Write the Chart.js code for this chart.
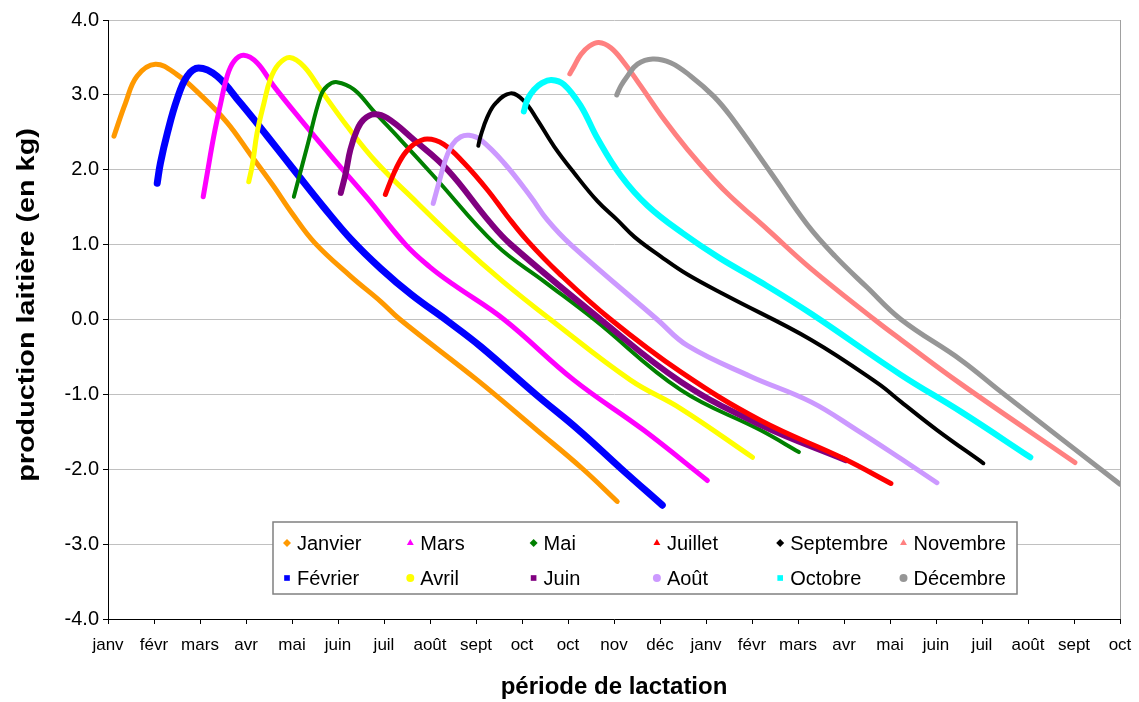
<!DOCTYPE html>
<html lang="fr">
<head>
<meta charset="utf-8">
<title>Production laitière</title>
<script src="https://cdn.jsdelivr.net/npm/chart.js@4.4.1/dist/chart.umd.min.js"></script>
<style>
    html, body { margin: 0; padding: 0; background: #fff; }
    .chart-box { width: 1139px; height: 702px; position: relative; }
</style>
</head>
<body>
<div class="chart-box"><canvas id="lactationChart"></canvas></div>
<script>
// x axis labels (one per month tick)
const monthLabels = ["janv", "févr", "mars", "avr", "mai", "juin", "juil", "août", "sept", "oct", "oct", "nov",
    "déc", "janv", "févr", "mars", "avr", "mai", "juin", "juil", "août", "sept", "oct"];

const yTicks = [-4, -3, -2, -1, 0, 1, 2, 3, 4];

// series: [month position, production]
const janvier = [[0.13, 2.45], [0.38, 2.89], [0.63, 3.25], [1.03, 3.41], [1.5, 3.27], [2.01, 3.0], [2.59, 2.63],
    [3.1, 2.2], [3.6, 1.78], [4.0, 1.42], [4.5, 1.02], [5.27, 0.58], [5.93, 0.24], [6.35, 0.0],
    [8.03, -0.81], [9.33, -1.48], [10.31, -1.99], [11.07, -2.43]];
const fevrier = [[1.07, 1.82], [1.14, 2.09], [1.29, 2.49], [1.5, 2.94], [1.72, 3.25], [1.97, 3.36], [2.37, 3.25],
    [2.88, 2.89], [3.46, 2.45], [4.04, 2.0], [4.69, 1.5], [5.3, 1.06], [5.93, 0.68], [6.6, 0.33], [7.38, -0.02],
    [8.1, -0.36], [9.3, -1.0], [10.24, -1.48], [11.15, -1.99], [12.05, -2.48]];
const mars = [[2.07, 1.64], [2.16, 1.96], [2.3, 2.45], [2.45, 2.89], [2.59, 3.25], [2.74, 3.45], [2.95, 3.53],
    [3.24, 3.43], [3.6, 3.12], [4.19, 2.67], [4.91, 2.14], [5.64, 1.62], [6.47, 1.0], [7.0, 0.7], [7.5, 0.47],
    [8.61, 0.0], [10.13, -0.81], [11.65, -1.48], [13.03, -2.15]];
const avril = [[3.06, 1.84], [3.14, 2.07], [3.24, 2.49], [3.39, 2.89], [3.53, 3.21], [3.71, 3.41], [3.95, 3.5],
    [4.26, 3.38], [4.62, 3.07], [5.2, 2.58], [5.85, 2.09], [6.72, 1.56], [7.67, 1.0], [8.6, 0.5], [9.62, 0.0],
    [11.36, -0.81], [12.45, -1.19], [14.01, -1.84]];
const mai = [[4.04, 1.64], [4.33, 2.31], [4.62, 2.98], [4.77, 3.12], [4.98, 3.17], [5.35, 3.07], [5.78, 2.78],
    [6.36, 2.4], [7.09, 1.91], [8.43, 1.0], [9.5, 0.5], [10.57, 0.0], [12.45, -0.94], [14.19, -1.48],
    [15.02, -1.77]];
const juin = [[5.06, 1.69], [5.17, 1.96], [5.27, 2.27], [5.42, 2.54], [5.56, 2.67], [5.78, 2.74], [6.07, 2.69],
    [6.65, 2.4], [7.38, 2.0], [8.3, 1.3], [8.76, 1.0], [10.71, 0.0], [12.45, -0.83], [14.19, -1.41],
    [16.04, -1.88]];
const juillet = [[6.03, 1.67], [6.22, 1.96], [6.43, 2.2], [6.65, 2.34], [6.94, 2.41], [7.3, 2.34], [7.74, 2.09],
    [8.25, 1.73], [8.68, 1.38], [9.12, 1.05], [9.8, 0.62], [10.93, 0.0], [12.45, -0.7], [14.19, -1.35],
    [16.0, -1.86], [17.02, -2.19]];
const aout = [[7.07, 1.55], [7.19, 1.82], [7.34, 2.14], [7.49, 2.34], [7.67, 2.44], [7.85, 2.46], [8.1, 2.4],
    [8.61, 2.09], [9.19, 1.64], [9.55, 1.33], [10.06, 1.0], [11.94, 0.0], [12.6, -0.35], [13.97, -0.76],
    [15.28, -1.1], [16.29, -1.48], [17.24, -1.86], [18.02, -2.18]];
const septembre = [[8.05, 2.32], [8.1, 2.45], [8.25, 2.71], [8.43, 2.89], [8.75, 3.02], [9.04, 2.92], [9.33, 2.67],
    [9.7, 2.31], [10.13, 1.96], [10.64, 1.58], [11.07, 1.33], [11.45, 1.1], [12.02, 0.84], [12.6, 0.6],
    [13.47, 0.31], [15.28, -0.27], [16.73, -0.85], [17.24, -1.1], [18.03, -1.48], [19.03, -1.92]];
const octobre = [[9.04, 2.78], [9.12, 2.94], [9.26, 3.07], [9.44, 3.16], [9.64, 3.2], [9.91, 3.14], [10.28, 2.85],
    [10.64, 2.42], [11.15, 1.92], [11.73, 1.52], [12.5, 1.15], [13.3, 0.82], [14.19, 0.5], [15.28, 0.08],
    [17.24, -0.74], [18.54, -1.23], [20.05, -1.84]];
const novembre = [[10.04, 3.28], [10.13, 3.38], [10.28, 3.54], [10.46, 3.65], [10.67, 3.7], [10.93, 3.63],
    [11.22, 3.43], [11.58, 3.12], [12.09, 2.67], [12.6, 2.27], [13.17, 1.87], [13.54, 1.64], [14.34, 1.2],
    [15.28, 0.68], [16.66, 0.0], [17.24, -0.27], [18.54, -0.86], [21.02, -1.91]];
const decembre = [[11.06, 3.0], [11.15, 3.12], [11.29, 3.25], [11.51, 3.41], [11.84, 3.48], [12.23, 3.43],
    [12.67, 3.25], [13.17, 2.98], [13.54, 2.71], [14.41, 1.96], [15.2, 1.27], [15.8, 0.85], [16.5, 0.43],
    [17.24, 0.0], [18.54, -0.54], [19.4, -0.96], [22.0, -2.2]];

const seriesNames = ["Janvier", "Février", "Mars", "Avril", "Mai", "Juin", "Juillet", "Août", "Septembre",
    "Octobre", "Novembre", "Décembre"];
const seriesData = [janvier, fevrier, mars, avril, mai, juin, juillet, aout, septembre, octobre, novembre, decembre];

(function () {
    "use strict";

    const colors = ["#FF9900", "#0000FF", "#FF00FF", "#FFFF00", "#008000", "#800080",
        "#FF0000", "#CC99FF", "#000000", "#00FFFF", "#FF8080", "#969696"];
    const markers = ["rectRot", "rect", "triangle", "circle", "rectRot", "rect",
        "triangle", "circle", "rectRot", "rect", "triangle", "circle"];
    const widths = [5, 7, 5, 5, 4, 6, 5, 5, 4, 6, 5, 5];
    const fontFamily = "'Liberation Sans', Arial, sans-serif";

    const datasets = seriesData.map((pts, i) => ({
        label: seriesNames[i],
        data: pts.map((p) => ({ x: p[0], y: p[1] })),
        borderColor: colors[i],
        backgroundColor: colors[i],
        borderWidth: widths[i],
        borderCapStyle: "round",
        borderJoinStyle: "round",
        tension: 0.4,
        pointRadius: 0,
        pointStyle: markers[i],
        fill: false,
        order: 12 - i,
    }));

    // Legend drawn as a 6 x 2 grid, column by column
    const gridLegend = {
        id: "gridLegend",
        afterDraw(chart) {
            const ctx = chart.ctx;
            const left = 273, top = 522, w = 744, h = 72;
            ctx.save();
            ctx.fillStyle = "#fff";
            ctx.fillRect(left, top, w, h);
            ctx.strokeStyle = "#808080";
            ctx.lineWidth = 1.5;
            ctx.strokeRect(left, top, w, h);
            ctx.font = "20px " + fontFamily;
            ctx.textBaseline = "middle";
            ctx.textAlign = "left";
            chart.data.datasets.forEach((ds, i) => {
                const col = Math.floor(i / 2);
                const row = i % 2;
                const x = 287 + col * 123.3;
                const y = 543 + row * 35;
                ctx.fillStyle = ds.borderColor;
                ctx.strokeStyle = ds.borderColor;
                Chart.helpers.drawPoint(ctx, { pointStyle: ds.pointStyle, radius: 4, rotation: 0, borderWidth: 0 }, x, y);
                ctx.fillStyle = "#000";
                ctx.fillText(ds.label, x + 10, y + 1);
            });
            ctx.restore();
        },
    };

    // Right edge of the plot frame + rotated y title (drawn a bit stretched, like the original)
    const plotFrame = {
        id: "plotFrame",
        beforeDatasetsDraw(chart) {
            const a = chart.chartArea;
            const ctx = chart.ctx;
            ctx.save();
            ctx.strokeStyle = "#a0a0a0";
            ctx.lineWidth = 1;
            ctx.beginPath();
            ctx.moveTo(a.right + 0.5, a.top);
            ctx.lineTo(a.right + 0.5, a.bottom);
            ctx.stroke();
            ctx.restore();
        },
        afterDraw(chart) {
            const ctx = chart.ctx;
            ctx.save();
            ctx.translate(27, 305);
            ctx.rotate(-Math.PI / 2);
            ctx.scale(1.2, 1);
            ctx.font = "bold 24px " + fontFamily;
            ctx.fillStyle = "#000";
            ctx.textAlign = "center";
            ctx.textBaseline = "middle";
            ctx.fillText("production laitière (en kg)", 0, 0);
            ctx.restore();
        },
    };

    const ctx = document.getElementById("lactationChart").getContext("2d");

    new Chart(ctx, {
        type: "line",
        data: { datasets: datasets },
        options: {
            responsive: true,
            maintainAspectRatio: false,
            animation: false,
            layout: { padding: { top: 20, right: 19, left: 0, bottom: 0 } },
            plugins: {
                legend: { display: false },
                tooltip: { enabled: false },
            },
            scales: {
                x: {
                    type: "linear",
                    min: 0,
                    max: monthLabels.length - 1,
                    afterBuildTicks(scale) {
                        scale.ticks = monthLabels.map((_, i) => ({ value: i }));
                    },
                    afterFit(scale) {
                        scale.height = 83;
                        scale.paddingLeft = 0;
                        scale.paddingRight = 0;
                    },
                    ticks: {
                        autoSkip: false,
                        maxRotation: 0,
                        padding: 11,
                        color: "#000",
                        font: { family: fontFamily, size: 17 },
                        callback: (v) => monthLabels[v],
                    },
                    grid: {
                        drawOnChartArea: false,
                        tickLength: 5,
                        color: "#000",
                    },
                    border: { color: "#000", width: 1 },
                    title: {
                        display: true,
                        text: "période de lactation",
                        color: "#000",
                        font: { family: fontFamily, size: 24, weight: "bold" },
                        padding: { top: 0, bottom: 0 },
                    },
                },
                y: {
                    min: -4,
                    max: 4,
                    afterBuildTicks(scale) {
                        scale.ticks = yTicks.map((v) => ({ value: v }));
                    },
                    afterFit(scale) {
                        scale.width = 108;
                        scale.paddingTop = 0;
                        scale.paddingBottom = 0;
                    },
                    ticks: {
                        padding: 4,
                        color: "#000",
                        font: { family: fontFamily, size: 20 },
                        callback: (v) => v.toFixed(1),
                    },
                    grid: {
                        color: "#c0c0c0",
                        tickColor: "#000",
                        tickLength: 5,
                    },
                    border: { color: "#000", width: 1 },
                },
            },
        },
        plugins: [plotFrame, gridLegend],
    });
})();
</script>
</body>
</html>
